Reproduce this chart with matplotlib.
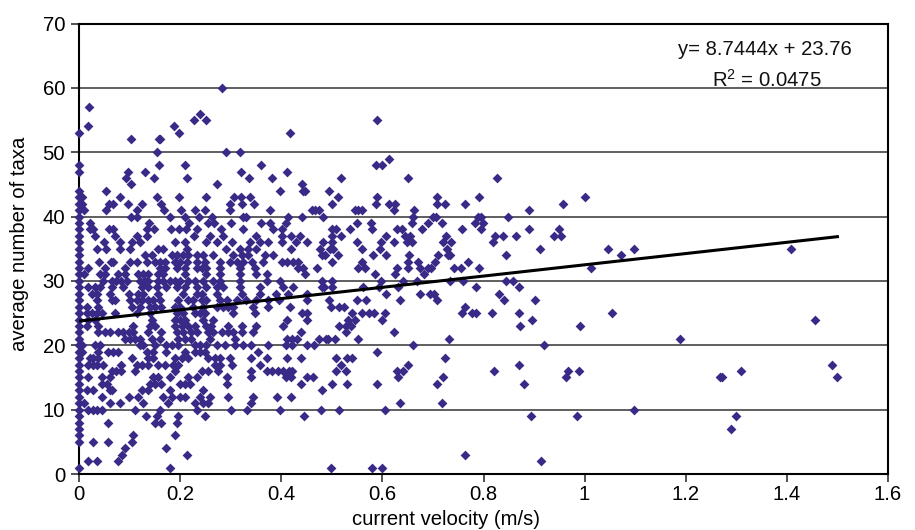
import matplotlib
matplotlib.use('Agg')
import matplotlib.pyplot as plt

plt.rcParams['font.family'] = ['Liberation Sans', 'DejaVu Sans']
plt.rcParams['mathtext.default'] = 'regular'

# trendline as printed on the chart
slope = 8.7444
intercept = 23.76
fit_x = [0, 1.5]

x_ticks = [0, 0.2, 0.4, 0.6, 0.8, 1, 1.2, 1.4, 1.6]
y_ticks = [0, 10, 20, 30, 40, 50, 60, 70]

# number of taxa, one entry per row of velocities below
taxa_levels = [60, 57, 56, 55, 54, 53, 52, 50, 49, 48, 47, 46, 45, 44, 43, 42, 41, 40, 39, 38,
               37, 36, 35, 34, 33, 32, 31, 30, 29, 28, 27, 26, 25, 24, 23, 22, 21, 20, 19, 18,
               17, 16, 15, 14, 13, 12, 11, 10, 9, 8, 7, 6, 5, 4, 3, 2, 1]

# current velocity (m/s) of every site at that number of taxa
velocities = [
    [.283],
    [.019],
    [.239],
    [.228, .252, .590],
    [.017, .187],
    [0, .198, .418],
    [.103, .158, .161],
    [.155, .291, .318],
    [.613],
    [0, .158, .209, .359, .587, .600],
    [0, .096, .130, .321, .412],
    [.092, .148, .213, .336, .382, .519, .651, .826],
    [.103, .273, .442],
    [0, .053, .397, .444, .447, .494],
    [0, .006, .082, .155, .197, .252, .306, .320, .339, .512, .590, .708, .791, 1.0],
    [0, .006, .060, .067, .096, .124, .163, .299, .322, .346, .500, .588, .614, .625, .709, .724, .764, .958],
    [0, .010, .053, .115, .168, .202, .230, .250, .299, .378, .460, .467, .474, .546, .552, .560, .623, .662, .889],
    [0, .103, .115, .180, .210, .237, .264, .324, .330, .414, .442, .483, .661, .700, .707, .789, .796, .848],
    [0, .022, .139, .218, .256, .267, .300, .359, .378, .409, .549, .577, .658, .691, .717, .783, .799],
    [0, .022, .028, .060, .068, .135, .148, .181, .197, .212, .234, .280, .324, .384, .401, .500, .509, .536,
     .579, .628, .638, .679, .757, .796, .890, .950],
    [0, .032, .071, .115, .135, .227, .259, .285, .350, .401, .420, .437, .500, .519, .607, .645, .654, .726,
     .822, .838, .865, .940, .953],
    [0, .049, .082, .104, .121, .190, .210, .252, .272, .302, .339, .358, .374, .402, .430, .450, .483, .500,
     .550, .598, .623, .648, .658, .720, .735, .818],
    [0, .035, .053, .082, .100, .157, .167, .213, .290, .318, .335, .351, .420, .476, .496, .503, .559, .595,
     .727, .911, 1.046, 1.098, 1.409],
    [0, .130, .144, .183, .193, .206, .216, .233, .246, .266, .305, .322, .335, .368, .384, .480, .486, .513,
     .581, .608, .653, .710, .730, .734, .845, 1.071],
    [0, .040, .063, .068, .100, .114, .134, .150, .160, .170, .190, .200, .213, .233, .249, .279, .299, .312,
     .325, .343, .364, .401, .411, .423, .434, .500, .559, .651, .671, .705, .770],
    [0, .018, .051, .091, .160, .170, .193, .210, .233, .243, .252, .279, .318, .348, .434, .444, .470, .552,
     .566, .628, .651, .675, .691, .697, .741, .756, .791, 1.012],
    [0, .010, .042, .051, .078, .091, .117, .127, .137, .157, .167, .210, .252, .279, .318, .351, .371, .447,
     .585, .625, .683],
    [0, .048, .065, .074, .084, .094, .121, .131, .137, .157, .167, .180, .190, .200, .216, .229, .246, .266,
     .279, .318, .371, .398, .480, .501, .597, .640, .668, .734, .760, .844, .859],
    [0, .018, .032, .042, .065, .088, .124, .137, .154, .173, .193, .210, .233, .252, .272, .285, .318, .358,
     .404, .423, .480, .484, .500, .562, .594, .630, .786, .871],
    [0, .025, .035, .061, .098, .117, .127, .157, .206, .233, .243, .272, .322, .358, .390, .414, .450, .607,
     .674, .694, .702, .830],
    [0, .035, .065, .071, .101, .114, .124, .137, .147, .160, .196, .216, .226, .243, .252, .279, .292, .312,
     .331, .351, .374, .396, .450, .495, .550, .567, .635, .709, .840, .902],
    [0, .015, .038, .104, .121, .140, .150, .163, .190, .200, .226, .246, .272, .285, .295, .305, .345, .374,
     .417, .498, .515, .524, .764],
    [0, .015, .025, .035, .045, .071, .114, .140, .193, .206, .229, .239, .249, .305, .348, .442, .451, .539,
     .560, .574, .584, .606, .758, .778, .785, .817, .870, 1.054],
    [0, .018, .032, .144, .190, .200, .210, .246, .266, .412, .450, .533, .546, .599, .895, 1.455],
    [0, .015, .038, .107, .140, .150, .190, .203, .216, .229, .252, .262, .295, .322, .351, .404, .514, .528,
     .537, .872, .991],
    [0, .038, .051, .061, .078, .088, .098, .107, .137, .163, .193, .206, .222, .233, .256, .266, .282, .295,
     .305, .322, .345, .440, .529, .623],
    [0, .091, .101, .111, .121, .144, .160, .196, .210, .222, .259, .308, .412, .421, .431, .475, .488, .493,
     .506, .551, .731, 1.188],
    [0, .005, .032, .042, .121, .127, .150, .173, .183, .196, .229, .239, .252, .272, .289, .308, .325, .341,
     .374, .409, .421, .450, .465, .661, .919],
    [0, .005, .038, .058, .068, .078, .134, .147, .173, .210, .229, .239, .249, .355, .590],
    [0, .022, .028, .038, .104, .137, .147, .190, .203, .216, .256, .268, .279, .299, .341, .371, .411, .440,
     .509, .531, .539, .724],
    [0, .018, .028, .035, .048, .084, .114, .124, .137, .157, .170, .186, .196, .269, .279, .302, .358, .519,
     .650, .870, 1.489],
    [0, .065, .074, .084, .111, .190, .243, .256, .275, .341, .371, .381, .394, .403, .416, .422, .508, .528,
     .628, .640, .821, .967, .989, 1.310],
    [0, .018, .045, .061, .147, .157, .180, .216, .233, .292, .341, .409, .420, .450, .463, .630, .719, .964,
     1.268, 1.271, 1.499],
    [0, .045, .055, .140, .150, .163, .200, .210, .219, .292, .440, .500, .530, .590, .709, .880],
    [0, .015, .028, .061, .065, .124, .137, .180, .246, .480],
    [0, .045, .098, .117, .167, .183, .200, .210, .239, .259, .295, .345, .391, .420],
    [0, .009, .061, .081, .127, .177, .229, .246, .256, .341, .635, .717],
    [0, .018, .028, .035, .045, .111, .160, .233, .300, .333, .397, .478, .514, .606, 1.098],
    [0, .132, .154, .196, .249, .445, .893, .984, 1.299],
    [0, .058, .150, .163, .193],
    [0, 1.290],
    [0, .107, .190],
    [0, .027, .058, .104],
    [.091, .173],
    [.086, .213, .763],
    [.018, .036, .078, .914],
    [0, .180, .499, .579, .600],
]

# flatten the rows for scatter
x = []
y = []
for level, row in zip(taxa_levels, velocities):
    x.extend(row)
    y.extend([level] * len(row))

fig = plt.figure(figsize=(9.15, 5.3), dpi=100)
ax = fig.add_axes([79 / 915, 1 - 474 / 530, 809 / 915, 450.5 / 530])

ax.scatter(x, y, marker='D', s=25, color='#3a2a88', linewidths=0, zorder=3, clip_on=False)
ax.plot(fit_x, [intercept + slope * v for v in fit_x], color='black', lw=2.2, zorder=4)

ax.set_xlim(0, 1.6)
ax.set_ylim(0, 70)
ax.set_xticks(x_ticks)
ax.set_xticklabels([str(t) for t in x_ticks])
ax.set_yticks(y_ticks)
ax.grid(axis='y', color='#333333', lw=1.1, zorder=1)
ax.set_axisbelow(True)

for side in ax.spines.values():
    side.set_linewidth(1.5)
    side.set_color('black')
ax.tick_params(axis='x', labelsize=14.6, length=6, width=1.1, color='#222222', pad=2)
ax.tick_params(axis='y', labelsize=14.6, length=6, width=1.1, color='#222222', pad=4)

ax.set_xlabel('current velocity (m/s)', fontsize=14.6, labelpad=4, x=(446 - 79) / 809)
ax.set_ylabel('average number of taxa', fontsize=14.6, labelpad=10, y=(474 - 244) / 450.5)

ax.text(1.357, 66, 'y= 8.7444x + 23.76', fontsize=14.6, ha='center', va='center', color='#111111')
ax.text(1.36, 61.2, 'R$^2$ = 0.0475', fontsize=14.6, ha='center', va='center', color='#111111')

fig.savefig('out.png', dpi=100)
